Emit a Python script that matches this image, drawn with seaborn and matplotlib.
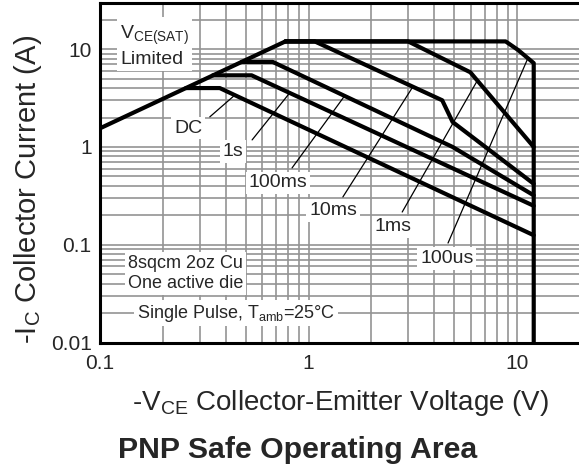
import numpy as np
import matplotlib
matplotlib.use('Agg')
import matplotlib.pyplot as plt
import seaborn as sns
from matplotlib.ticker import LogLocator, NullFormatter

# Safe operating area curves, -VCE (V) vs -IC (A)
vsat_v = [0.1, 0.774]
vsat_i = [1.55, 12.0]

dc_v = [0.258, 0.375, 12.0]
dc_i = [4.0, 4.0, 0.125]

s1_v = [0.348, 0.533, 12.0]
s1_i = [5.4, 5.4, 0.25]

ms100_v = [0.477, 0.673, 4.9, 12.0]
ms100_i = [7.4, 7.4, 1.0, 0.32]

ms10_v = [0.774, 1.07, 4.37, 4.9, 12.0]
ms10_i = [12.0, 12.0, 3.0, 1.8, 0.42]

ms1_v = [0.774, 3.0, 5.96, 12.0]
ms1_i = [12.0, 12.0, 5.8, 1.0]

us100_v = [0.774, 8.8, 10.1, 12.0, 12.0]
us100_i = [12.0, 12.0, 9.8, 7.2, 0.01]

# curve labels: text, label position, leader start, leader end
label_names = ['DC', '1s', '100ms', '10ms', '1ms', '100us']
label_pos = [(0.264, 1.56), (0.434, 0.89), (0.713, 0.428),
             (1.31, 0.222), (2.54, 0.152), (4.6, 0.0716)]
leader_from = [(0.336, 2.03), (0.536, 1.18), (0.833, 0.61),
               (1.46, 0.308), (2.81, 0.216), (4.66, 0.104)]
leader_to = [(0.443, 3.39), (0.81, 3.55), (1.49, 3.34),
             (3.15, 4.08), (6.44, 4.77), (11.2, 7.9)]

xticks = [0.1, 1, 10]
xtick_labels = ['0.1', '1', '10']
yticks = [0.01, 0.1, 1, 10]
ytick_labels = ['0.01', '0.1', '1', '10']

sns.set_style('white')
plt.rcParams['font.family'] = ['Liberation Sans', 'DejaVu Sans']
plt.rcParams['mathtext.default'] = 'regular'

fig = plt.figure(figsize=(5.79, 4.66), dpi=100)
ax = fig.add_axes([100 / 579, 1 - 342.5 / 466, 480 / 579, 340 / 466])

curves = [(vsat_v, vsat_i), (dc_v, dc_i), (s1_v, s1_i), (ms100_v, ms100_i),
          (ms10_v, ms10_i), (ms1_v, ms1_i), (us100_v, us100_i)]
for v, i in curves:
    sns.lineplot(x=v, y=i, ax=ax, color='black', lw=3.0, sort=False,
                 estimator=None, zorder=3)

ax.set_xscale('log')
ax.set_yscale('log')
ax.set_xlim(0.1, 20)
ax.set_ylim(0.01, 30)

ax.set_xticks(xticks)
ax.set_xticklabels(xtick_labels)
ax.set_yticks(yticks)
ax.set_yticklabels(ytick_labels)
for axis in (ax.xaxis, ax.yaxis):
    axis.set_minor_locator(LogLocator(base=10, subs=np.arange(2, 10)))
    axis.set_minor_formatter(NullFormatter())
ax.tick_params(which='both', length=0, labelsize=15)
ax.tick_params(axis='x', pad=8)
ax.tick_params(axis='y', pad=6)
ax.grid(which='both', color='#939393', lw=1.2)
ax.set_axisbelow(True)

for side in ['left', 'bottom', 'top']:
    ax.spines[side].set_linewidth(2.2)
    ax.spines[side].set_color('black')
ax.spines['right'].set_visible(False)

box = dict(facecolor='white', edgecolor='none', boxstyle='square,pad=0.15')

# leaders and labels
for name, pos, p0, p1 in zip(label_names, label_pos, leader_from, leader_to):
    ax.plot([p0[0], p1[0]], [p0[1], p1[1]], color='black', lw=0.9, zorder=2.5)
    ax.text(pos[0], pos[1], name, fontsize=14, ha='center', va='center',
            bbox=box, zorder=4)

ax.text(0.125, 10.8, 'V$_{CE(SAT)}$\nLimited', fontsize=14, ha='left',
        va='center', linespacing=1.3, bbox=box, zorder=4)
ax.text(0.136, 0.0509, '8sqcm 2oz Cu\nOne active die', fontsize=13,
        ha='left', va='center', linespacing=1.25, bbox=box, zorder=4)
ax.text(0.150, 0.0179, 'Single Pulse, T$_{amb}$=25°C', fontsize=13,
        ha='left', va='baseline', bbox=box, zorder=4)

fig.text(28 / 579, 1 - 189 / 466, '-I$_{C}$ Collector Current (A)',
         rotation=90, fontsize=21, ha='center', va='center')
fig.text(340 / 579, 1 - 410 / 466, '-V$_{CE}$ Collector-Emitter Voltage (V)',
         fontsize=20, ha='center', va='baseline')
fig.text(297.5 / 579, 1 - 458 / 466, 'PNP Safe Operating Area',
         fontsize=21.8, fontweight='bold', ha='center', va='baseline')

fig.savefig('out.png', dpi=100)
